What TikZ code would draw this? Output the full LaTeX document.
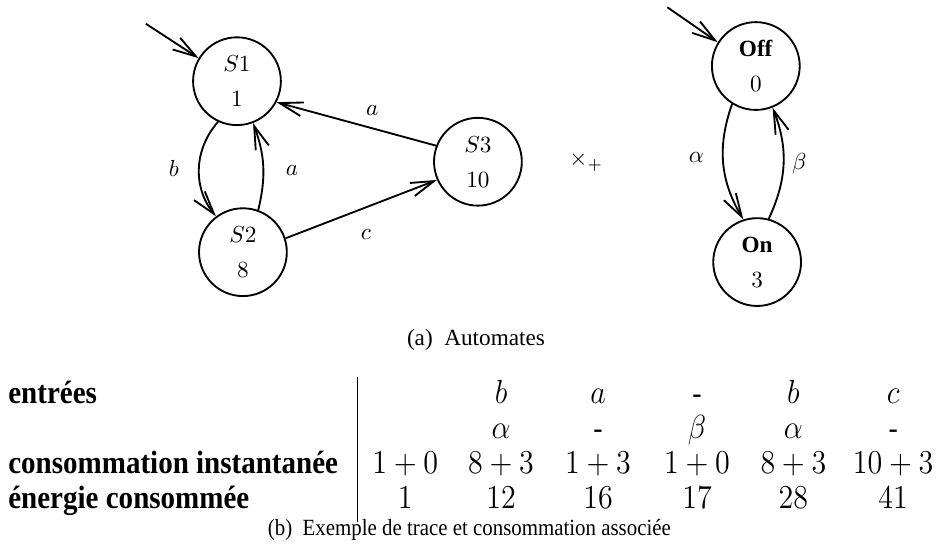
\documentclass[tikz,border=0pt]{standalone}
\usepackage[no-math]{fontspec}
\setmainfont{Liberation Serif}
\usetikzlibrary{arrows.meta, positioning}

\begin{document}
\begin{tikzpicture}[
    >={Straight Barb[length=10pt, width=6pt]},
    state/.style={circle, draw, line width=0.8pt, minimum size=1.33cm, inner sep=0pt, align=center},
    trans/.style={->, line width=0.8pt},
    squeezed/.style={xscale=0.9, transform shape},
    rowlabel/.style={squeezed, anchor=base west, inner sep=0pt, font=\fontsize{13.9}{16}\selectfont\bfseries},
    cell/.style={squeezed, anchor=base, inner sep=0pt, font=\fontsize{13.3}{16}\selectfont}
  ]
  \useasboundingbox (0,0) rectangle (14.21,-8.30);
  % First automaton
  \node[state] (S1) at (3.59,-1.23) {$S1$\\[3pt]$1$};
  \node[state] (S2) at (3.68,-3.82) {$S2$\\[3pt]$8$};
  \node[state] (S3) at (7.24,-2.45) {$S3$\\[3pt]$10$};
  \coordinate (inS1) at (2.21,-0.36);
  \draw[trans] (inS1) -- (S1.149);
  \draw[trans] (S1.-115) to[bend right=40] node[left=5pt] (lb) {$b$} (S2.127);
  \draw[trans] (S2.70) to[bend right=17] node[pos=0.45, right=6pt] (la1) {$a$} (S1.-69);
  \draw[trans] (S3.159) -- node[pos=0.4, above=2pt] (la2) {$a$} (S1.-28);
  \draw[trans] (S2.18) -- node[pos=0.53, below=6pt] (lc) {$c$} (S3.-156);
  % Product sign
  \node (prod) at (8.88,-2.45) {$\times_+$};
  % Second automaton
  \node[state] (Off) at (11.45,-1.00) {\textbf{Off}\\[3pt]$0$};
  \node[state] (On) at (11.47,-3.97) {\textbf{On}\\[3pt]$3$};
  \coordinate (inOff) at (10.11,-0.11);
  \draw[trans] (inOff) -- (Off.148);
  \draw[trans] (Off.-122) to[bend right=25] node[pos=0.45, left=4.5pt] (lalpha) {$\alpha$} (On.108);
  \draw[trans] (On.75) to[bend right=23] node[right=0pt] (lbeta) {$\beta$} (Off.-68);
  % Caption (a)
  \node[anchor=base] (capa) at (7.21,-5.23) {(a)\enspace Automates};
  % Trace table
  \node[rowlabel] (rin) at (0.12,-6.11) {entrées};
  \node[rowlabel] (rci) at (0.12,-7.17) {consommation instantanée};
  \node[rowlabel] (ren) at (0.12,-7.70) {énergie consommée};
  \coordinate (bartop) at (5.41,-5.71);
  \coordinate (barbot) at (5.41,-7.91);
  \draw[line width=0.5pt] (bartop) -- (barbot);
  \foreach \x/\v [count=\i] in {7.59/{$b$}, 9.06/{$a$}, 10.56/{-}, 12.02/{$b$}, 13.53/{$c$}}
    \node[cell] (ra\i) at (\x,-6.11) {\v};
  \foreach \x/\v [count=\i] in {7.59/{$\alpha$}, 9.06/{-}, 10.56/{$\beta$}, 12.02/{$\alpha$}, 13.53/{-}}
    \node[cell] (rb\i) at (\x,-6.64) {\v};
  \foreach \x/\v [count=\i] in {6.14/{1+0}, 7.59/{8+3}, 9.06/{1+3}, 10.56/{1+0}, 12.02/{8+3}, 13.53/{10+3}}
    \node[cell] (rc\i) at (\x,-7.17) {$\v$};
  \foreach \x/\v [count=\i] in {6.14/1, 7.59/12, 9.06/16, 10.56/17, 12.02/28, 13.53/41}
    \node[cell] (rd\i) at (\x,-7.70) {$\v$};
  % Caption (b)
  \node[squeezed, anchor=base] (capb) at (7.11,-8.11) {(b)\enspace Exemple de trace et consommation associée};
\end{tikzpicture}
\end{document}
